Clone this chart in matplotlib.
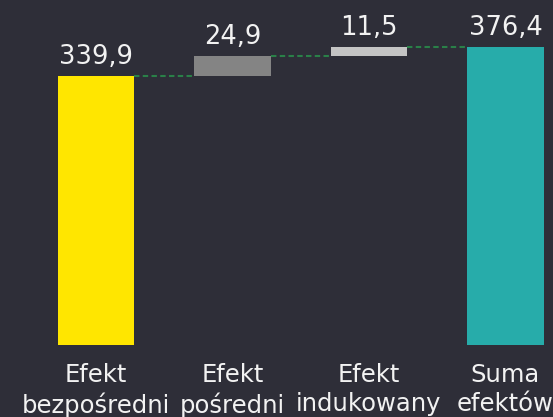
import numpy as np
import matplotlib
matplotlib.use("Agg")
import matplotlib.pyplot as plt

# Waterfall data (mld zł)
categories = ["Efekt\nbezpośredni", "Efekt\npośredni", "Efekt\nindukowany", "Suma\nefektów"]
effects = [339.9, 24.9, 11.5]
total = 376.4
value_labels = ["339,9", "24,9", "11,5", "376,4"]

bg = "#2e2e38"
bar_colors = ["#ffe600", "#848484", "#c4c4c4", "#27acaa"]
link_color = "#2a8048"

fig = plt.figure(figsize=(5.53, 4.17), dpi=100, facecolor=bg)
ax = fig.add_axes([0, 72 / 417, 1, 345 / 417])
ax.set_facecolor(bg)

x = np.arange(len(categories))
heights = effects + [total]
bottoms = [0] + list(np.cumsum(effects)[:-1]) + [0]
w = 0.564

ax.bar(x, heights, bottom=bottoms, width=w, color=bar_colors, zorder=2)

# dashed connectors between bars
levels = list(np.cumsum(effects))
for i, lvl in enumerate(levels):
    ax.plot([x[i] + w / 2, x[i + 1] - w / 2], [lvl, lvl], color=link_color,
            lw=1.5, linestyle=(0, (2.6, 1.6)), zorder=1)

# value labels above bars
for xi, b, h, lab in zip(x, bottoms, heights, value_labels):
    ax.annotate(lab, (xi, b + h), xytext=(0, 8.6), textcoords="offset points",
                ha="center", va="baseline", fontsize=18.5, color="#f2f2f2")

ax.set_xlim(-96 / 136.5, (553 - 96) / 136.5)
ax.set_ylim(0, 345 / 0.7915)
ax.set_xticks(x)
ax.set_xticklabels(categories, fontsize=17.5, color="#f2f2f2", linespacing=1.27)
ax.tick_params(axis="x", length=0, pad=13)
ax.set_yticks([])
for s in ax.spines.values():
    s.set_visible(False)

fig.savefig("out.png", dpi=100, facecolor=bg)
